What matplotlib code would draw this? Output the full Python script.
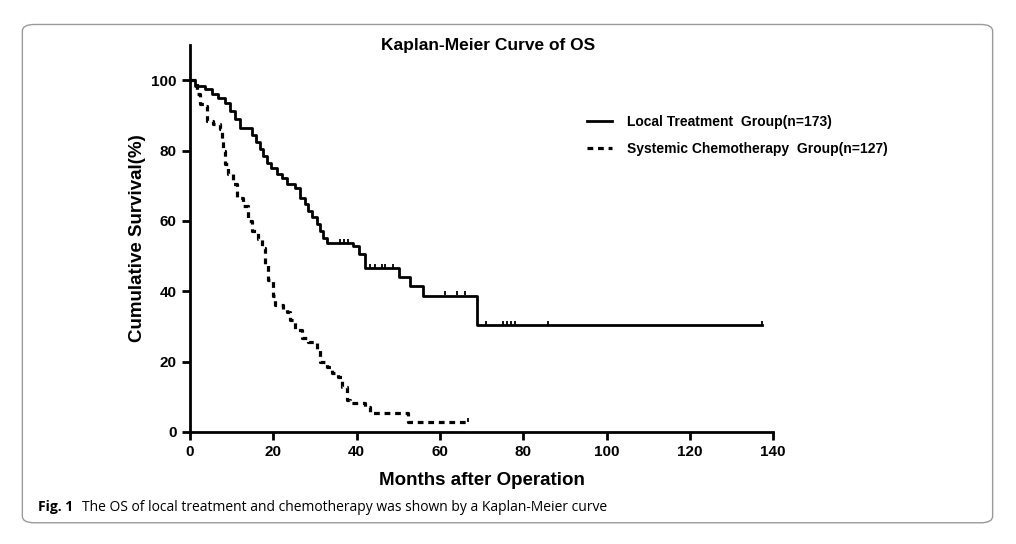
import matplotlib
matplotlib.use('Agg')
import matplotlib.pyplot as plt
from matplotlib.patches import FancyBboxPatch

# step points (months, survival %)
local_t = [0, 1.2, 3.6, 5.3, 6.7, 8.4, 9.6, 10.8, 12.0, 14.9, 15.9, 16.8, 17.6, 18.5,
           19.5, 20.9, 22.0, 23.3, 25.2, 26.4, 27.6, 28.3, 29.4, 30.5, 31.2, 31.9,
           33.0, 39.2, 40.6, 42.0, 50.2, 52.8, 56.0, 69.0, 137.4]
local_s = [100, 98.3, 97.4, 96.0, 94.9, 93.5, 91.2, 89.0, 86.4, 84.5, 82.5, 80.5, 78.5, 76.5,
           75.0, 73.4, 72.2, 70.5, 69.4, 66.6, 64.8, 62.9, 61.0, 59.2, 57.2, 55.2,
           53.8, 52.8, 50.7, 46.7, 44.2, 41.6, 38.8, 30.3, 30.3]
local_cens_t = [36.0, 37.0, 38.0, 43.2, 44.4, 46.1, 46.8, 48.8, 61.2, 64.1, 66.0,
                71.1, 75.2, 76.1, 77.1, 78.0, 86.0, 137.4]
local_cens_s = [53.8, 53.8, 53.8, 46.7, 46.7, 46.7, 46.7, 46.7, 38.8, 38.8, 38.8,
                30.3, 30.3, 30.3, 30.3, 30.3, 30.3, 30.3]

chemo_t = [0, 1.7, 2.4, 3.6, 4.1, 5.5, 7.2, 7.7, 7.9, 8.4, 9.1, 10.3, 11.3, 12.7,
           13.9, 14.9, 16.3, 17.3, 18.0, 18.7, 19.9, 20.4, 22.3, 23.3, 24.0, 25.2,
           26.9, 28.3, 30.5, 31.2, 32.9, 34.1, 35.5, 36.5, 37.7, 38.4, 42.0, 43.2,
           52.3, 66.8]
chemo_s = [100, 96.0, 93.2, 92.6, 88.4, 87.5, 86.1, 82.7, 79.9, 76.2, 73.4, 70.5, 66.6, 64.3,
           60.1, 57.2, 55.0, 52.4, 47.9, 43.1, 38.8, 36.0, 35.1, 34.0, 31.7, 28.9,
           26.6, 25.5, 23.2, 19.8, 18.4, 16.7, 15.6, 12.7, 9.1, 8.2, 7.1, 5.4,
           2.8, 2.8]
chemo_cens_t = [66.8]
chemo_cens_s = [2.8]

labels = ['Local Treatment  Group(n=173)', 'Systemic Chemotherapy  Group(n=127)']

plt.rcParams['font.family'] = ['Liberation Sans', 'DejaVu Sans']

fig = plt.figure(figsize=(10.16, 5.44), dpi=100)
fig.patch.set_facecolor('white')

# rounded frame around the figure panel
frame = FancyBboxPatch((0.022, 0.039), 0.955, 0.916, boxstyle='round,pad=0,rounding_size=0.012',
                       transform=fig.transFigure, facecolor='none', edgecolor='#9a9a9a', lw=1.0)
fig.patches.append(frame)

ax = fig.add_axes([0.187, 0.206, 0.574, 0.711])

ax.step(local_t, local_s, where='post', color='black', lw=2.0, label=labels[0])
ax.step(chemo_t, chemo_s, where='post', color='black', lw=2.3, ls=(0, (1.8, 1.5)), label=labels[1])
ax.plot(local_cens_t, [s + 0.6 for s in local_cens_s], ls='none', marker='|', ms=3.5, mew=1.3, color='black')
ax.plot(chemo_cens_t, [s + 0.6 for s in chemo_cens_s], ls='none', marker='|', ms=3.5, mew=1.3, color='black')

ax.set_xlim(0, 140)
ax.set_ylim(0, 110)
ax.set_xticks(range(0, 141, 20))
ax.set_yticks(range(0, 101, 20))
for side in ['top', 'right']:
    ax.spines[side].set_visible(False)
for side in ['left', 'bottom']:
    ax.spines[side].set_linewidth(2.0)
ax.spines['bottom'].set_bounds(0, 140)
ax.tick_params(width=2.0, length=6, labelsize=11, direction='out')
for lab in ax.get_xticklabels() + ax.get_yticklabels():
    lab.set_fontweight('bold')

ax.set_xlabel('Months after Operation', fontsize=13.5, fontweight='bold', labelpad=9)
ax.set_ylabel('Cumulative Survival(%)', fontsize=13.5, fontweight='bold', labelpad=4)

fig.text(0.480, 0.917, 'Kaplan-Meier Curve of OS', ha='center', va='center',
         fontsize=12.5, fontweight='bold')

leg = ax.legend(loc='upper left', bbox_to_anchor=(0.660, 0.853), frameon=False,
                handlelength=1.75, handletextpad=1.1, labelspacing=0.95,
                prop={'weight': 'bold', 'size': 10})

fig.text(0.037, 0.068, 'Fig. 1', fontsize=10, fontweight='bold', family='Open Sans',
         ha='left', va='center')
fig.text(0.081, 0.068, 'The OS of local treatment and chemotherapy was shown by a Kaplan-Meier curve',
         fontsize=10, family='Open Sans', ha='left', va='center')

fig.savefig('out.png', dpi=100)
